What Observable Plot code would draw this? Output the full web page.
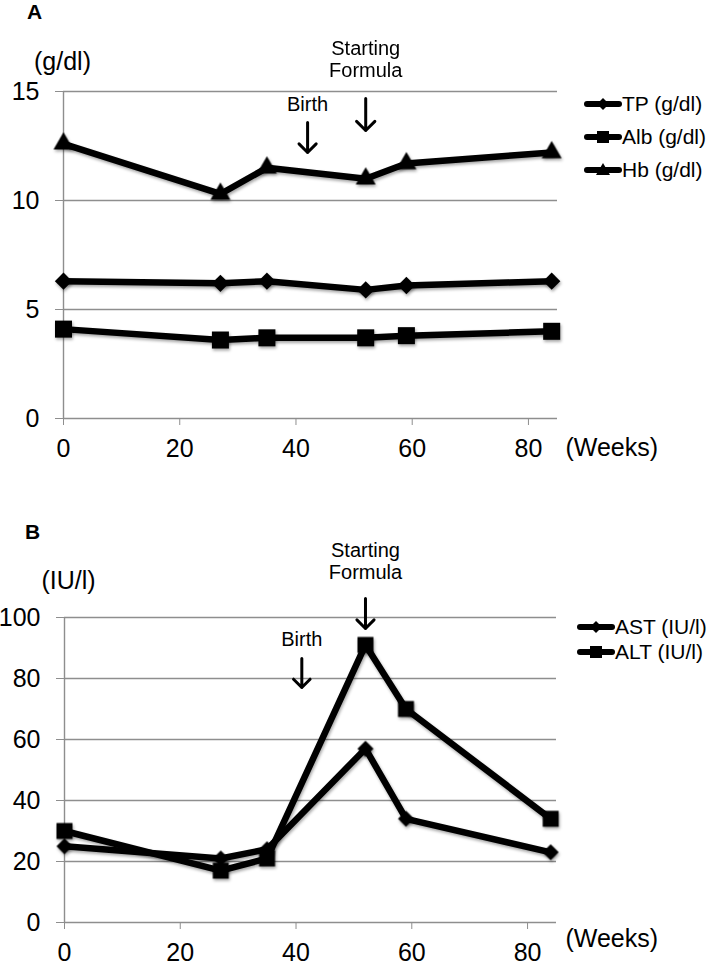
<!DOCTYPE html>
<html><head><meta charset="utf-8">
<script src="https://cdn.jsdelivr.net/npm/d3@7"></script>
<script src="https://cdn.jsdelivr.net/npm/@observablehq/plot@0.6"></script>
<style>
body{margin:0;background:#fff;font-family:"Liberation Sans",Arial,sans-serif;}
#wrap{position:relative;width:709px;height:966px;overflow:hidden;background:#fff}
.panel{position:absolute;left:0}
.leg{position:absolute;display:flex;align-items:center;height:26px;white-space:nowrap;font-size:21px;color:#000;line-height:26px}
.leg svg{display:block}
</style></head><body><div id="wrap"></div>
<script>
// ---- data ----
const weeks = [0, 27, 35, 52, 59, 84];
const tp  = [6.3, 6.2, 6.3, 5.9, 6.1, 6.3];
const alb = [4.1, 3.6, 3.7, 3.7, 3.8, 4.0];
const hb  = [12.6, 10.3, 11.5, 11.0, 11.7, 12.2];
const ast = [25, 21, 24, 57, 34, 23];
const alt = [30, 17, 21, 91, 70, 34];
const xTicks = [0, 20, 40, 60, 80];
const yTicksA = [0, 5, 10, 15];
const yTicksB = [0, 20, 40, 60, 80, 100];
const seriesA = ["TP (g/dl)", "Alb (g/dl)", "Hb (g/dl)"];
const seriesB = ["AST (IU/l)", "ALT (IU/l)"];
const birthA = [{label: "Birth", week: 42}];
const birthB = [{label: "Birth", week: 41}];
const formula = [{label: "Starting\nFormula", week: 52}];

const tidy = (names, arrays) => names.map((s, i) => weeks.map((w, j) => ({series: s, week: w, value: arrays[i][j]})));
const [tpD, albD, hbD] = tidy(seriesA, [tp, alb, hb]);
const [astD, altD] = tidy(seriesB, [ast, alt]);

const FONT = "Liberation Sans, Arial, sans-serif";
const GRID = "#8e8e8e";

function panel(opts) {
  const {height, mt, mb, ml, mr, yDomain, yTicks, series, letter, unit, birth, birthCfg, formCfg, letterCfg, unitCfg, weeksCfg, lw} = opts;
  const lineMarks = series.map(s => Plot.line(s.data, {x: "week", y: "value", stroke: "black", strokeWidth: lw, strokeLinejoin: "round", strokeLinecap: "round"}));
  const dotMarks = series.map(s => Plot.dot(s.data, {x: "week", y: "value", symbol: s.symbol, r: s.r, fill: "black", stroke: "none"}));
  return Plot.plot({
    width: 709, height,
    marginTop: mt, marginBottom: mb, marginLeft: ml, marginRight: mr,
    style: {fontFamily: FONT, background: "white", color: "black", overflow: "visible"},
    x: {domain: [0, 85]},
    y: {domain: yDomain},
    marks: [
      Plot.ruleY(yTicks, {stroke: GRID, strokeWidth: 1.4}),
      Plot.ruleX([0], {stroke: GRID, strokeWidth: 1.4}),
      Plot.axisY({ticks: yTicks, tickSize: 8, tickPadding: 16, fontSize: 25, stroke: GRID, fill: "black", label: null, tickFormat: d => String(d)}),
      Plot.axisX({ticks: xTicks, tickSize: 7, tickPadding: 14, fontSize: 25, stroke: GRID, fill: "black", label: null, tickFormat: d => String(d)}),
      ...lineMarks,
      ...dotMarks,
      Plot.text([letter], {frameAnchor: "top-left", textAnchor: "middle", dx: letterCfg[0], dy: letterCfg[1], fontSize: 21, fontWeight: "bold"}),
      Plot.text([unit], {frameAnchor: "top-left", textAnchor: "middle", dx: unitCfg[0], dy: unitCfg[1], fontSize: 25}),
      Plot.text(["(Weeks)"], {frameAnchor: "bottom-right", textAnchor: "start", dx: weeksCfg[0], dy: weeksCfg[1], fontSize: 25}),
      Plot.text(birth, {x: "week", text: "label", frameAnchor: "top", dy: birthCfg[0], fontSize: 20}),
      Plot.vector(birth, {x: "week", frameAnchor: "top", dy: birthCfg[1], length: birthCfg[2], rotate: 180, anchor: "end", shape: "arrow", r: 5, stroke: "black", strokeWidth: 3}),
      Plot.text(formula, {x: "week", text: "label", frameAnchor: "top", dy: formCfg[0], fontSize: 20, lineHeight: 1.1}),
      Plot.vector(formula, {x: "week", frameAnchor: "top", dy: formCfg[1], length: formCfg[2], rotate: 180, anchor: "end", shape: "arrow", r: 5, stroke: "black", strokeWidth: 3})
    ]
  });
}

const wrap = document.getElementById("wrap");

const pA = panel({
  height: 470, mt: 91, mb: 52, ml: 63, mr: 152,
  yDomain: [0, 15], yTicks: yTicksA, lw: 6.5,
  series: [
    {data: tpD, symbol: "diamond2", r: 7.8},
    {data: albD, symbol: "square", r: 9.6},
    {data: hbD, symbol: "triangle", r: 7.4}
  ],
  letter: "A", unit: "(g/dl)", birth: birthA,
  letterCfg: [-29, -87], unitCfg: [-1, -39], weeksCfg: [8, 37],
  birthCfg: [5, 61, 30], formCfg: [-52, 39, 32]
});
pA.classList.add("panel"); pA.style.top = "0px";
wrap.appendChild(pA);

const pB = panel({
  height: 486, mt: 137, mb: 44, ml: 64, mr: 153,
  yDomain: [0, 100], yTicks: yTicksB, lw: 6.5,
  series: [
    {data: astD, symbol: "diamond2", r: 7.2},
    {data: altD, symbol: "square", r: 9}
  ],
  letter: "B", unit: "(IU/l)", birth: birthB,
  letterCfg: [-32, -93], unitCfg: [4, -46], weeksCfg: [9, 24],
  birthCfg: [14, 70, 29], formCfg: [-76, 11, 30]
});
pB.classList.add("panel"); pB.style.top = "480px";
wrap.appendChild(pB);

// subtle Excel-like shadow on data marks
for (const svg of [pA, pB]) {
  svg.querySelectorAll('g[aria-label="line"], g[aria-label="dot"]').forEach(g => {
    g.style.filter = "drop-shadow(1.5px 2.5px 1.5px rgba(0,0,0,0.35))";
  });
}

// ---- legends ----
const markerPath = {
  diamond: "M0,-6L6,0L0,6L-6,0Z",
  square: "M-6,-6H6V6H-6Z",
  triangle: "M0,-7L7,5H-7Z"
};
function legend(names, shapes, left, centers) {
  names.forEach((name, i) => {
    const d = document.createElement("div");
    d.className = "leg";
    d.style.left = left + "px";
    d.style.top = (centers[i] - 13) + "px";
    d.innerHTML = `<svg width="39" height="26" viewBox="0 0 39 26"><line x1="4" x2="36" y1="13" y2="13" stroke="black" stroke-width="6" stroke-linecap="round"/><path transform="translate(20,13)" d="${markerPath[shapes[i]]}" fill="black"/></svg><span>${name}</span>`;
    wrap.appendChild(d);
  });
}
legend(seriesA, ["diamond", "square", "triangle"], 583, [104, 137, 170]);
legend(seriesB, ["diamond", "square"], 576, [627, 652]);
</script>
</body></html>
